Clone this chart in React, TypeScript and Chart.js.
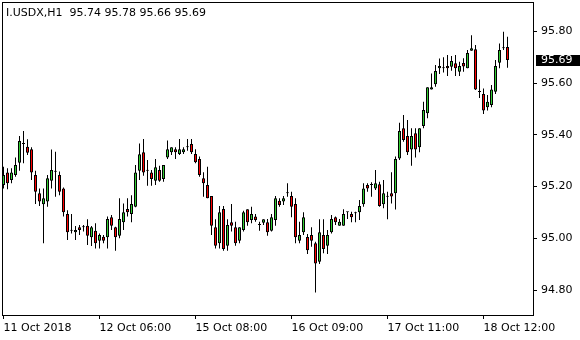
import React, { useEffect, useRef } from "react";
import { Chart, registerables } from "chart.js";

Chart.register(...registerables);

const symbolTitle = "I.USDX,H1";

const opens = [
  95.206, 95.255, 95.226, 95.245, 95.292, 95.368, 95.354, 95.345, 95.245, 95.174,
  95.132, 95.142, 95.223, 95.260, 95.245, 95.193, 95.094, 95.029, 95.023, 95.043,
  95.043, 95.049, 95.004, 95.029, 94.991, 95.006, 95.004, 95.081, 95.043, 95.010,
  95.062, 95.113, 95.094, 95.122, 95.261, 95.333, 95.261, 95.255, 95.223, 95.264,
  95.229, 95.313, 95.333, 95.345, 95.326, 95.333, 95.352, 95.365, 95.326, 95.307,
  95.232, 95.206, 95.164, 95.043, 94.981, 95.113, 94.971, 95.062, 95.043, 94.991,
  95.032, 95.112, 95.071, 95.084, 95.051, 95.060, 95.062, 95.029, 95.071, 95.145,
  95.142, 95.174, 95.164, 95.133, 94.991, 95.023, 95.005, 95.013, 94.981, 94.909,
  95.013, 94.971, 95.023, 95.081, 95.049, 95.049, 95.101, 95.094, 95.097, 95.101,
  95.132, 95.206, 95.206, 95.193, 95.209, 95.132, 95.161, 95.174, 95.174, 95.309,
  95.426, 95.396, 95.344, 95.406, 95.352, 95.434, 95.484, 95.576, 95.596, 95.658,
  95.658, 95.667, 95.664, 95.677, 95.644, 95.678, 95.658, 95.726, 95.731, 95.566,
  95.558, 95.507, 95.516, 95.567, 95.679, 95.735, 95.74,
];

const highs = [
  95.277, 95.271, 95.271, 95.313, 95.396, 95.415, 95.383, 95.352, 95.261, 95.193,
  95.193, 95.245, 95.344, 95.335, 95.258, 95.197, 95.109, 95.094, 95.048, 95.051,
  95.051, 95.074, 95.048, 95.058, 95.019, 95.013, 95.084, 95.090, 95.045, 95.155,
  95.135, 95.155, 95.167, 95.284, 95.367, 95.384, 95.303, 95.264, 95.307, 95.281,
  95.284, 95.378, 95.352, 95.352, 95.384, 95.352, 95.384, 95.384, 95.345, 95.316,
  95.256, 95.277, 95.164, 95.074, 95.125, 95.125, 95.074, 95.133, 95.064, 95.043,
  95.107, 95.112, 95.122, 95.094, 95.064, 95.074, 95.075, 95.094, 95.164, 95.155,
  95.164, 95.213, 95.180, 95.155, 95.064, 95.101, 95.017, 95.043, 94.987, 95.074,
  95.074, 95.032, 95.090, 95.084, 95.075, 95.112, 95.103, 95.103, 95.103, 95.148,
  95.213, 95.213, 95.217, 95.264, 95.219, 95.226, 95.180, 95.256, 95.316, 95.447,
  95.477, 95.458, 95.426, 95.426, 95.426, 95.528, 95.584, 95.638, 95.670, 95.696,
  95.700, 95.709, 95.705, 95.709, 95.683, 95.697, 95.728, 95.786, 95.748, 95.614,
  95.580, 95.554, 95.593, 95.690, 95.754, 95.799, 95.78,
];

const lows = [
  95.193, 95.190, 95.213, 95.238, 95.261, 95.290, 95.322, 95.226, 95.133, 95.125,
  94.981, 95.122, 95.193, 95.161, 95.167, 95.084, 94.993, 95.019, 94.993, 95.013,
  95.026, 94.974, 94.970, 94.961, 94.961, 94.981, 94.961, 95.032, 94.952, 95.000,
  95.032, 95.084, 95.062, 95.120, 95.226, 95.242, 95.203, 95.203, 95.206, 95.219,
  95.219, 95.307, 95.322, 95.307, 95.322, 95.326, 95.339, 95.326, 95.290, 95.238,
  95.161, 95.155, 95.013, 94.961, 94.961, 94.952, 94.952, 95.026, 94.971, 94.981,
  95.026, 95.049, 95.058, 95.064, 95.029, 95.051, 95.010, 95.026, 95.049, 95.122,
  95.129, 95.161, 95.081, 94.981, 94.981, 95.013, 94.939, 94.967, 94.790, 94.901,
  94.942, 94.939, 95.019, 95.051, 95.049, 95.049, 95.075, 95.062, 95.062, 95.071,
  95.122, 95.180, 95.161, 95.187, 95.122, 95.116, 95.074, 95.135, 95.111, 95.303,
  95.374, 95.322, 95.281, 95.313, 95.333, 95.426, 95.464, 95.576, 95.586, 95.636,
  95.641, 95.628, 95.648, 95.628, 95.628, 95.644, 95.658, 95.726, 95.574, 95.543,
  95.481, 95.494, 95.507, 95.558, 95.658, 95.728, 95.66,
];

const closes = [
  95.245, 95.213, 95.255, 95.284, 95.376, 95.365, 95.331, 95.255, 95.180, 95.142,
  95.155, 95.232, 95.264, 95.257, 95.180, 95.101, 95.023, 95.029, 95.032, 95.032,
  95.043, 95.010, 95.043, 94.981, 95.013, 94.991, 95.075, 95.049, 95.004, 95.075,
  95.101, 95.101, 95.133, 95.255, 95.325, 95.255, 95.261, 95.229, 95.275, 95.223,
  95.284, 95.345, 95.352, 95.333, 95.345, 95.345, 95.352, 95.333, 95.294, 95.245,
  95.213, 95.155, 95.049, 94.971, 95.101, 94.959, 95.051, 95.049, 94.981, 95.043,
  95.101, 95.062, 95.094, 95.071, 95.051, 95.074, 95.023, 95.081, 95.155, 95.129,
  95.155, 95.174, 95.122, 95.004, 95.013, 95.081, 94.954, 94.991, 94.903, 95.023,
  94.959, 95.013, 95.075, 95.062, 95.064, 95.094, 95.101, 95.081, 95.097, 95.125,
  95.193, 95.193, 95.206, 95.213, 95.125, 95.174, 95.161, 95.162, 95.307, 95.415,
  95.380, 95.333, 95.396, 95.344, 95.426, 95.496, 95.584, 95.584, 95.647, 95.667,
  95.658, 95.658, 95.686, 95.658, 95.667, 95.665, 95.717, 95.735, 95.576, 95.566,
  95.494, 95.528, 95.576, 95.667, 95.728, 95.735, 95.69,
];

const xTickIndices = [0, 24, 48, 72, 96, 120];
const xTickLabels = [
  "11 Oct 2018",
  "12 Oct 06:00",
  "15 Oct 08:00",
  "16 Oct 09:00",
  "17 Oct 11:00",
  "18 Oct 12:00",
];
const yTickValues = [94.8, 95.0, 95.2, 95.4, 95.6, 95.8];

const BULL = "#32CD32";
const BEAR = "#FF0000";
const FONT = "'DejaVu Sans', sans-serif";

const fmt = (v: number) => v.toFixed(2);

export default function App() {
  const ref = useRef<HTMLCanvasElement>(null);

  useEffect(() => {
    document.body.style.margin = "0";
    const canvas = ref.current;
    if (!canvas) return;
    const last = opens.length - 1;

    const wickData = opens.map((_, i) => ({ x: i, y: [lows[i], highs[i]] }));
    const bodyData = opens.map((o, i) => ({ x: i, y: [o, closes[i]] }));

    const overlay = {
      id: "mt4overlay",
      afterDatasetsDraw(chart: any) {
        const { ctx, chartArea } = chart;
        ctx.save();
        ctx.strokeStyle = "#000";
        ctx.lineWidth = 1;
        ctx.strokeRect(
          chartArea.left - 0.5,
          chartArea.top - 0.5,
          chartArea.right - chartArea.left + 1,
          chartArea.bottom - chartArea.top + 1
        );
        ctx.restore();
      },
      afterDraw(chart: any) {
        const { ctx } = chart;
        const yScale = chart.scales.y;
        ctx.save();
        ctx.font = `11px ${FONT}`;
        ctx.fillStyle = "#000";
        ctx.textAlign = "left";
        ctx.textBaseline = "alphabetic";
        const header = `${symbolTitle}  ${fmt(opens[last])} ${fmt(highs[last])} ${fmt(lows[last])} ${fmt(closes[last])}`;
        ctx.fillText(header, 6, 16);
        const yc = Math.round(yScale.getPixelForValue(closes[last]));
        ctx.fillRect(536, yc - 5, 44, 11);
        ctx.fillStyle = "#fff";
        ctx.textBaseline = "middle";
        ctx.fillText(fmt(closes[last]), 541, yc + 0.5);
        ctx.restore();
      },
    };

    const chart = new Chart(canvas, {
      type: "bar",
      data: {
        datasets: [
          {
            label: "body",
            data: bodyData as any,
            order: 0,
            grouped: false,
            barThickness: 3,
            minBarLength: 1,
            borderWidth: 1,
            borderSkipped: false,
            borderColor: "#000",
            inflateAmount: 0,
            backgroundColor: (c: any) =>
              closes[c.dataIndex] >= opens[c.dataIndex] ? BULL : BEAR,
          } as any,
          {
            label: "wick",
            data: wickData as any,
            order: 1,
            grouped: false,
            barThickness: 1,
            borderWidth: 0,
            inflateAmount: 0,
            backgroundColor: "#000",
          } as any,
        ],
      },
      options: {
        responsive: false,
        animation: false,
        events: [],
        layout: { padding: { left: 3, top: 3, right: 0, bottom: 0 } },
        plugins: {
          legend: { display: false },
          tooltip: { enabled: false },
          title: { display: false },
        },
        scales: {
          x: {
            type: "linear",
            position: "bottom",
            min: -0.125,
            max: 132.375,
            offset: false,
            border: { display: false },
            grid: {
              offset: false,
              drawOnChartArea: false,
              drawTicks: true,
              tickLength: 4,
              color: "#000",
              lineWidth: 1,
            },
            ticks: {
              autoSkip: false,
              maxRotation: 0,
              minRotation: 0,
              align: "start",
              padding: 3,
              color: "#000",
              font: { family: FONT, size: 11 },
              callback: (_v: any, i: number) => xTickLabels[i],
            },
            afterBuildTicks: (s: any) => {
              s.ticks = xTickIndices.map((v) => ({ value: v }));
            },
            afterFit: (s: any) => {
              s.height = 25;
              s.paddingLeft = 0;
              s.paddingRight = 0;
              s.paddingTop = 0;
              s.paddingBottom = 0;
            },
          } as any,
          y: {
            type: "linear",
            position: "right",
            min: 94.7033,
            max: 95.9103,
            beginAtZero: false,
            border: { display: false },
            grid: {
              drawOnChartArea: false,
              drawTicks: true,
              tickLength: 4,
              color: "#000",
              lineWidth: 1,
            },
            ticks: {
              padding: 4,
              color: "#000",
              font: { family: FONT, size: 11 },
              callback: (v: any) => Number(v).toFixed(2),
            },
            afterBuildTicks: (s: any) => {
              s.ticks = yTickValues.map((v) => ({ value: v }));
            },
            afterFit: (s: any) => {
              s.width = 47;
              s.paddingLeft = 0;
              s.paddingRight = 0;
              s.paddingTop = 0;
              s.paddingBottom = 0;
            },
          } as any,
        },
      },
      plugins: [overlay as any],
    });

    return () => chart.destroy();
  }, []);

  return (
    <div style={{ width: 580, height: 340, background: "#fff" }}>
      <canvas ref={ref} width={580} height={340} style={{ display: "block" }} />
    </div>
  );
}
